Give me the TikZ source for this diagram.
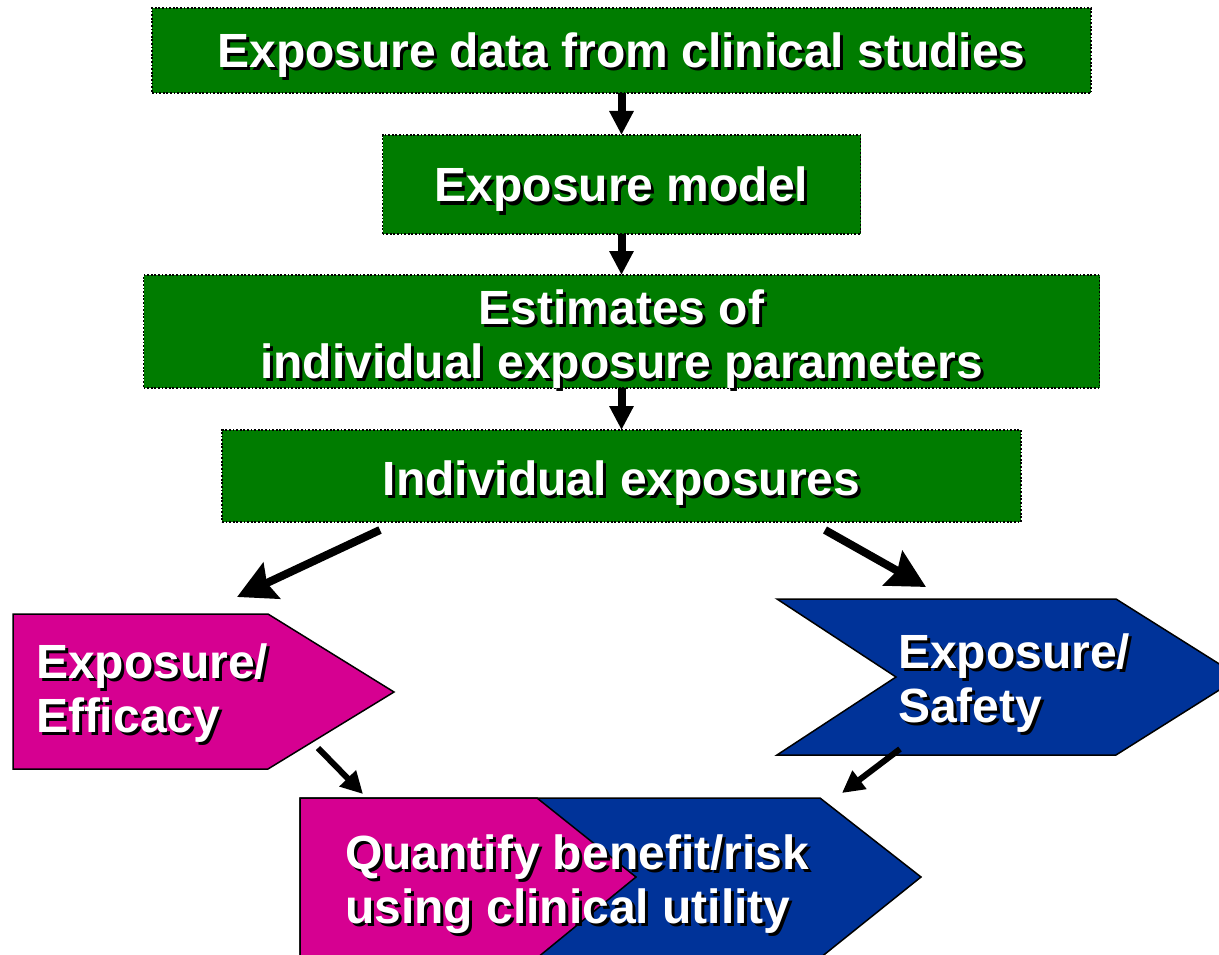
\documentclass[tikz,border=0pt]{standalone}
\usepackage{fontspec}
\setmainfont{Liberation Sans}
\usetikzlibrary{arrows.meta}
\definecolor{boxgreen}{RGB}{0,124,0}
\definecolor{effmag}{RGB}{214,0,145}
\definecolor{safeblue}{RGB}{0,51,153}
% white bold text with a black drop shadow
\newcommand\shd[1]{\makebox[0pt][l]{\hspace*{3pt}\raisebox{-3pt}{\textcolor{black}{#1}}}#1}
\tikzset{
  gbox/.style={draw=black, fill=boxgreen, line width=1.8pt,
    dash pattern=on 1.8pt off 1.8pt, inner sep=0pt, outer sep=0pt},
  txt/.style={text=white, inner sep=0pt, outer sep=0pt, align=center,
    font=\fontsize{48}{54}\selectfont\bfseries},
  ltxt/.style={txt, align=left},
  chev/.style={draw=black, line width=1.5pt, line join=miter},
  vflow/.style={draw=black, line width=8pt,
    -{Triangle[length=24pt,width=23pt]}},
  dflow/.style={draw=black, line width=8pt,
    -{Stealth[length=38pt,width=39pt,inset=5pt]}},
  sflow/.style={draw=black, line width=6pt,
    -{Triangle[length=22pt,width=22pt]}},
}
\begin{document}
\begin{tikzpicture}[x=1pt,y=-1pt]
\clip (0,0) rectangle (1219,955);
\fill[white] (0,0) rectangle (1219,955);

% pipeline boxes
\node[gbox, minimum width=939pt, minimum height=85pt]  (b1) at (621.5,50.5) {};
\node[gbox, minimum width=478pt, minimum height=99pt]  (b2) at (621.5,184.5) {};
\node[gbox, minimum width=956pt, minimum height=113pt] (b3) at (621.5,331.5) {};
\node[gbox, minimum width=799pt, minimum height=92pt]  (b4) at (621.5,476) {};

% multi-line nodes: the base anchor sits on the last line
\node[txt, anchor=base] (t1) at (621.5,68)  {\shd{Exposure data from clinical studies}};
\node[txt, anchor=base] (t2) at (621.5,202) {\shd{Exposure model}};
\node[txt, anchor=base] (t3) at (621.5,378) {\shd{Estimates of}\\\shd{individual exposure parameters}};
\node[txt, anchor=base] (t4) at (621.5,495) {\shd{Individual exposures}};

\draw[vflow] (b1.south) -- (b2.north);
\draw[vflow] (b2.south) -- (b3.north);
\draw[vflow] (b3.south) -- (b4.north);

% efficacy and safety branches
\path[chev, fill=effmag] (13,614) -- (268,614) -- (394,692) -- (268,769) -- (13,769) -- cycle;
\path[chev, fill=safeblue] (777,599) -- (1116,599) -- (1240,677) -- (1116,755) -- (777,755) -- (896,677) -- cycle;
\node[ltxt, anchor=base west] (t5) at (36,732)  {\shd{Exposure/}\\\shd{Efficacy}};
\node[ltxt, anchor=base west] (t6) at (898,722) {\shd{Exposure/}\\\shd{Safety}};

% combined benefit/risk
\path[chev, fill=safeblue] (300,798) -- (820,798) -- (921,877) -- (820,958) -- (300,958) -- cycle;
\path[chev, fill=effmag]   (300,798) -- (537,798) -- (636,877) -- (537,958) -- (300,958) -- cycle;
\node[ltxt, anchor=base west] (t7) at (345,923) {\shd{Quantify benefit/risk}\\\shd{using clinical utility}};

\coordinate (d1s) at (380,530);
\coordinate (d1e) at (237,597);
\coordinate (d2s) at (825,530);
\coordinate (d2e) at (926,587);
\coordinate (e1s) at (318,748);
\coordinate (e1e) at (363,794);
\coordinate (e2s) at (900,749);
\coordinate (e2e) at (842,793);
\draw[dflow] (d1s) -- (d1e);
\draw[dflow] (d2s) -- (d2e);
\draw[sflow] (e1s) -- (e1e);
\draw[sflow] (e2s) -- (e2e);
\end{tikzpicture}
\end{document}
